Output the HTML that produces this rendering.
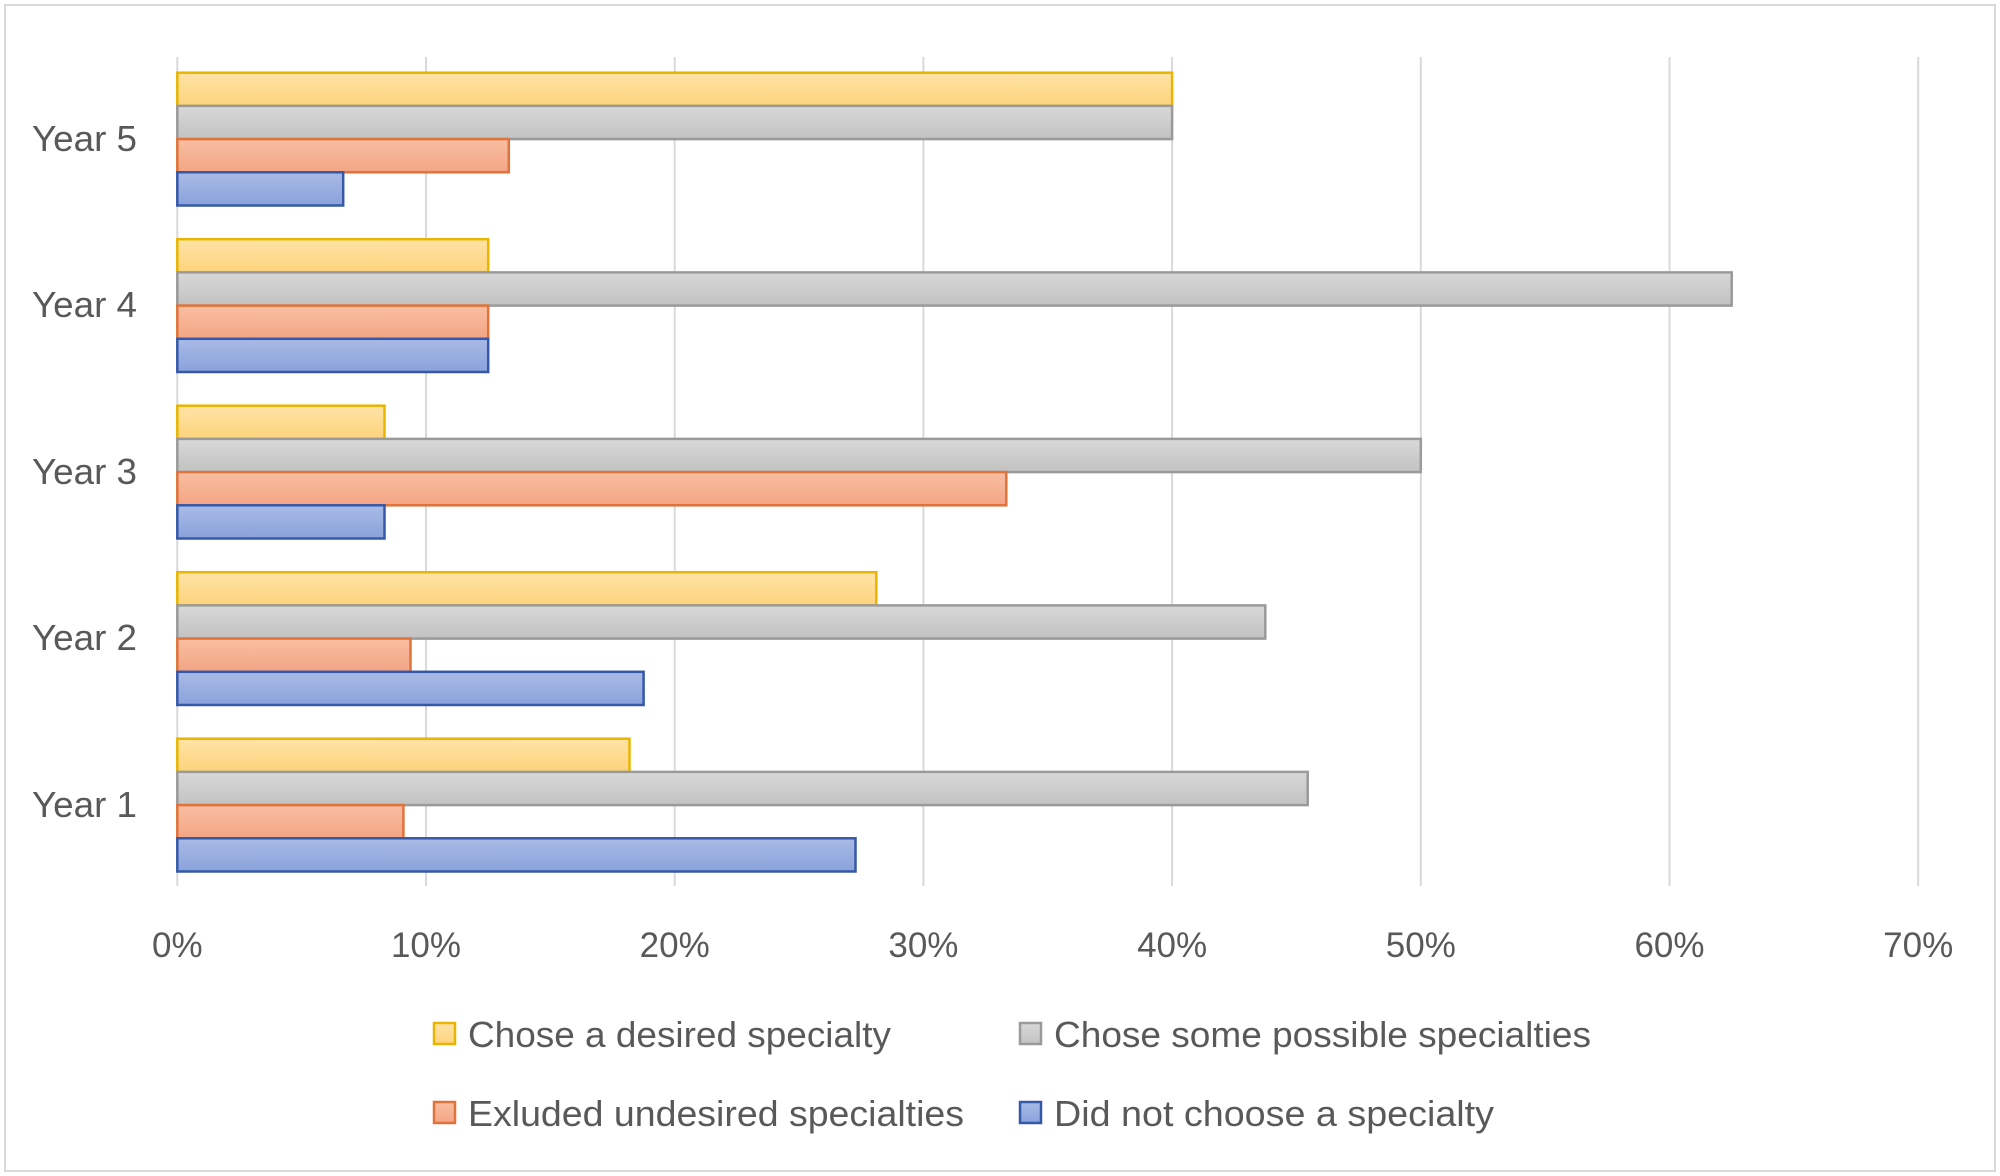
<!DOCTYPE html>
<html><head><meta charset="utf-8"><style>html,body{margin:0;padding:0;background:#fff}svg{display:block}</style></head>
<body>
<svg width="2000" height="1176" viewBox="0 0 2000 1176" xmlns="http://www.w3.org/2000/svg" font-family="'Liberation Sans', sans-serif" fill="#595959">
<defs>
<linearGradient id="gy" x1="0" y1="0" x2="0" y2="1"><stop offset="0" stop-color="#ffe3a6"/><stop offset="1" stop-color="#fdd37c"/></linearGradient>
<linearGradient id="gg" x1="0" y1="0" x2="0" y2="1"><stop offset="0" stop-color="#d8d8d8"/><stop offset="1" stop-color="#c2c2c2"/></linearGradient>
<linearGradient id="go" x1="0" y1="0" x2="0" y2="1"><stop offset="0" stop-color="#f9bea2"/><stop offset="1" stop-color="#f3a585"/></linearGradient>
<linearGradient id="gb" x1="0" y1="0" x2="0" y2="1"><stop offset="0" stop-color="#a9bbe6"/><stop offset="1" stop-color="#8aa1db"/></linearGradient>
</defs>
<rect x="5" y="5" width="1990" height="1166" fill="#fff" stroke="#d9d9d9" stroke-width="2"/>
<g stroke="#d9d9d9" stroke-width="2">
<line x1="426" y1="57" x2="426" y2="886"/><line x1="674.7" y1="57" x2="674.7" y2="886"/>
<line x1="923.4" y1="57" x2="923.4" y2="886"/><line x1="1172.1" y1="57" x2="1172.1" y2="886"/>
<line x1="1420.8" y1="57" x2="1420.8" y2="886"/><line x1="1669.5" y1="57" x2="1669.5" y2="886"/>
<line x1="1918.2" y1="57" x2="1918.2" y2="886"/><line x1="177.3" y1="57" x2="177.3" y2="886"/>
</g>
<g stroke-width="2.5">
<rect x="177.3" y="72.7" width="994.8" height="33.2" fill="url(#gy)" stroke="#e8b500"/>
<rect x="177.3" y="105.9" width="994.8" height="33.2" fill="url(#gg)" stroke="#9a9a9a"/>
<rect x="177.3" y="139.1" width="331.5" height="33.2" fill="url(#go)" stroke="#e0733a"/>
<rect x="177.3" y="172.3" width="165.9" height="33.2" fill="url(#gb)" stroke="#3559a8"/>
<rect x="177.3" y="239.2" width="310.9" height="33.2" fill="url(#gy)" stroke="#e8b500"/>
<rect x="177.3" y="272.4" width="1554.4" height="33.2" fill="url(#gg)" stroke="#9a9a9a"/>
<rect x="177.3" y="305.6" width="310.9" height="33.2" fill="url(#go)" stroke="#e0733a"/>
<rect x="177.3" y="338.8" width="310.9" height="33.2" fill="url(#gb)" stroke="#3559a8"/>
<rect x="177.3" y="405.7" width="207.2" height="33.2" fill="url(#gy)" stroke="#e8b500"/>
<rect x="177.3" y="438.9" width="1243.5" height="33.2" fill="url(#gg)" stroke="#9a9a9a"/>
<rect x="177.3" y="472.1" width="829.0" height="33.2" fill="url(#go)" stroke="#e0733a"/>
<rect x="177.3" y="505.3" width="207.2" height="33.2" fill="url(#gb)" stroke="#3559a8"/>
<rect x="177.3" y="572.2" width="699" height="33.2" fill="url(#gy)" stroke="#e8b500"/>
<rect x="177.3" y="605.4" width="1088" height="33.2" fill="url(#gg)" stroke="#9a9a9a"/>
<rect x="177.3" y="638.6" width="233.2" height="33.2" fill="url(#go)" stroke="#e0733a"/>
<rect x="177.3" y="671.8" width="466.3" height="33.2" fill="url(#gb)" stroke="#3559a8"/>
<rect x="177.3" y="738.7" width="452.2" height="33.2" fill="url(#gy)" stroke="#e8b500"/>
<rect x="177.3" y="771.9" width="1130.4" height="33.2" fill="url(#gg)" stroke="#9a9a9a"/>
<rect x="177.3" y="805.1" width="226.1" height="33.2" fill="url(#go)" stroke="#e0733a"/>
<rect x="177.3" y="838.3" width="678.2" height="33.2" fill="url(#gb)" stroke="#3559a8"/>
</g>
<g font-size="36">
<text x="32" y="151" textLength="105" lengthAdjust="spacingAndGlyphs">Year 5</text>
<text x="32" y="317" textLength="105" lengthAdjust="spacingAndGlyphs">Year 4</text>
<text x="32" y="484" textLength="105" lengthAdjust="spacingAndGlyphs">Year 3</text>
<text x="32" y="650" textLength="105" lengthAdjust="spacingAndGlyphs">Year 2</text>
<text x="32" y="817" textLength="105" lengthAdjust="spacingAndGlyphs">Year 1</text>
</g>
<g font-size="35" text-anchor="middle">
<text x="177.3" y="957">0%</text><text x="426" y="957">10%</text><text x="674.7" y="957">20%</text>
<text x="923.4" y="957">30%</text><text x="1172.1" y="957">40%</text><text x="1420.8" y="957">50%</text>
<text x="1669.5" y="957">60%</text><text x="1918.2" y="957">70%</text>
</g>
<g stroke-width="2.5">
<rect x="434" y="1023" width="21" height="21" fill="url(#gy)" stroke="#e8b500"/>
<rect x="1020" y="1023" width="21" height="21" fill="url(#gg)" stroke="#9a9a9a"/>
<rect x="434" y="1102" width="21" height="21" fill="url(#go)" stroke="#e0733a"/>
<rect x="1020" y="1102" width="21" height="21" fill="url(#gb)" stroke="#3559a8"/>
</g>
<g font-size="36">
<text x="468" y="1047" textLength="423" lengthAdjust="spacingAndGlyphs">Chose a desired specialty</text>
<text x="1054" y="1047" textLength="537" lengthAdjust="spacingAndGlyphs">Chose some possible specialties</text>
<text x="468" y="1126" textLength="496" lengthAdjust="spacingAndGlyphs">Exluded undesired specialties</text>
<text x="1054" y="1126" textLength="440" lengthAdjust="spacingAndGlyphs">Did not choose a specialty</text>
</g>
</svg>
</body></html>
